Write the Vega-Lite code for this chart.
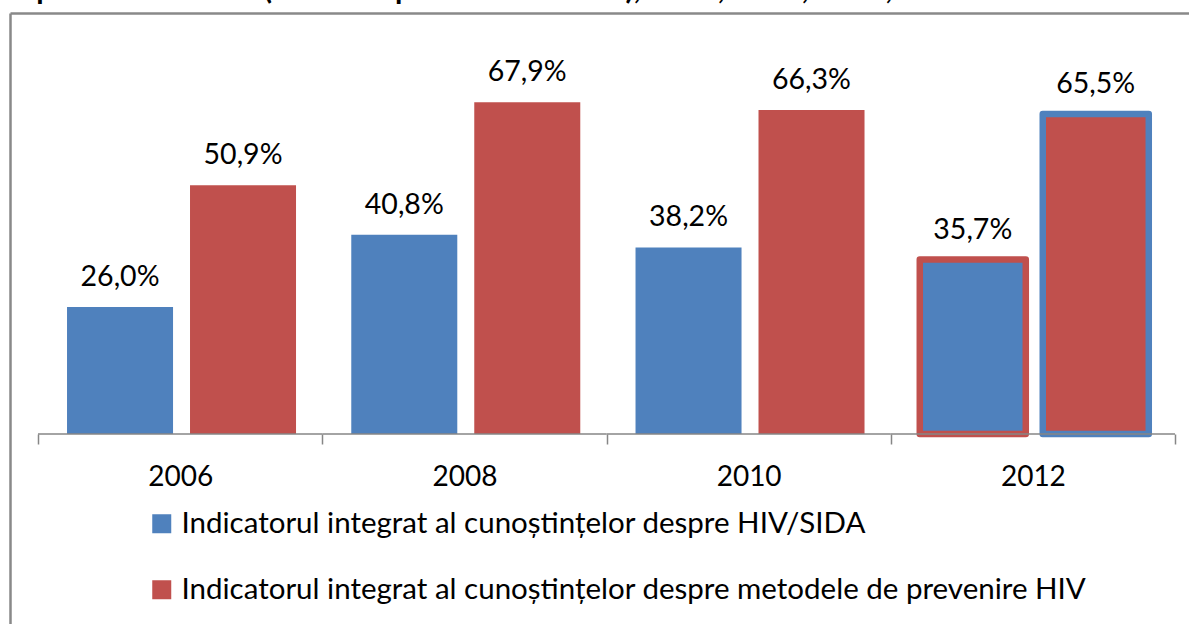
{
  "$schema": "https://vega.github.io/schema/vega-lite/v6.json",
  "width": 1179,
  "height": 611,
  "autosize": {"type": "none"},
  "padding": {"left": 10, "top": 13, "right": 0, "bottom": 0},
  "background": "white",
  "config": {
    "view": {"stroke": null},
    "locale": {"number": {"decimal": ",", "thousands": ".", "grouping": [3], "currency": ["", " lei"]}}
  },
  "title": {
    "text": "Republica Moldova (malul drept al râului Nistru), 2006, 2008, 2010, 2012",
    "anchor": "start",
    "font": "Lato",
    "fontSize": 30,
    "fontWeight": "bold",
    "color": "black",
    "baseline": "alphabetic",
    "offset": 6,
    "dx": -8,
    "dy": 22
  },
  "datasets": {
    "bars": [
      {"year": "2006", "series": "Indicatorul integrat al cunoștințelor despre HIV/SIDA", "value": 0.260},
      {"year": "2006", "series": "Indicatorul integrat al cunoștințelor despre metodele de prevenire HIV", "value": 0.509},
      {"year": "2008", "series": "Indicatorul integrat al cunoștințelor despre HIV/SIDA", "value": 0.408},
      {"year": "2008", "series": "Indicatorul integrat al cunoștințelor despre metodele de prevenire HIV", "value": 0.679},
      {"year": "2010", "series": "Indicatorul integrat al cunoștințelor despre HIV/SIDA", "value": 0.382},
      {"year": "2010", "series": "Indicatorul integrat al cunoștințelor despre metodele de prevenire HIV", "value": 0.663},
      {"year": "2012", "series": "Indicatorul integrat al cunoștințelor despre HIV/SIDA", "value": 0.357},
      {"year": "2012", "series": "Indicatorul integrat al cunoștințelor despre metodele de prevenire HIV", "value": 0.655}
    ],
    "years": [
      {"year": "2006"}, {"year": "2008"}, {"year": "2010"}, {"year": "2012"}
    ]
  },
  "layer": [
    {
      "data": {"name": "bars"},
      "mark": {"type": "bar", "strokeJoin": "round"},
      "encoding": {
        "x": {
          "field": "year", "type": "nominal",
          "scale": {"paddingInner": 0, "paddingOuter": 0.0739, "align": 0.667},
          "axis": {
            "orient": "bottom", "title": null, "offset": -190,
            "domain": false, "ticks": true, "tickBand": "extent",
            "tickSize": 10, "tickColor": "#868686", "tickWidth": 1.5,
            "labelFont": "Lato", "labelFontSize": 28, "labelColor": "black",
            "labelAngle": 0, "labelBaseline": "alphabetic", "labelPadding": 41,
            "grid": false
          }
        },
        "xOffset": {
          "field": "series", "type": "nominal",
          "scale": {"paddingInner": 0.138, "paddingOuter": 0.2246, "align": 0.525}
        },
        "y": {
          "field": "value", "type": "quantitative",
          "scale": {"domain": [-0.3889, 0.8618], "nice": false, "zero": false},
          "axis": {
            "title": null, "labels": false, "ticks": false, "grid": false,
            "domain": true, "domainColor": "#898989", "domainWidth": 2.5
          }
        },
        "y2": {"datum": 0},
        "color": {
          "field": "series", "type": "nominal",
          "scale": {
            "domain": [
              "Indicatorul integrat al cunoștințelor despre HIV/SIDA",
              "Indicatorul integrat al cunoștințelor despre metodele de prevenire HIV"
            ],
            "range": ["#4F81BD", "#C0504D"]
          },
          "legend": {
            "orient": "none", "legendX": 137, "legendY": 496,
            "title": null, "direction": "vertical", "columns": 1,
            "symbolType": "square", "symbolSize": 361,
            "symbolStrokeWidth": 0, "symbolOpacity": 1,
            "labelFont": "Lato", "labelFontSize": 29.5, "labelColor": "black",
            "labelLimit": 2000, "labelOffset": 5, "rowPadding": 35, "padding": 0
          }
        },
        "stroke": {
          "condition": [
            {"test": "datum.year === '2012' && datum.series === 'Indicatorul integrat al cunoștințelor despre HIV/SIDA'", "value": "#C0504D"},
            {"test": "datum.year === '2012'", "value": "#4F81BD"}
          ],
          "value": null
        },
        "strokeWidth": {
          "condition": {"test": "datum.year === '2012'", "value": 6.5},
          "value": 0
        }
      }
    },
    {
      "data": {"name": "bars"},
      "mark": {"type": "text", "font": "Lato", "fontSize": 28.5, "color": "black", "baseline": "alphabetic", "dy": -21},
      "encoding": {
        "x": {"field": "year", "type": "nominal", "axis": null},
        "xOffset": {"field": "series", "type": "nominal"},
        "y": {"field": "value", "type": "quantitative"},
        "text": {"field": "value", "type": "quantitative", "format": ".1%"}
      }
    },
    {
      "data": {"name": "years"},
      "mark": {"type": "tick", "size": 284.25, "thickness": 1.5, "color": "#868686", "opacity": 1},
      "encoding": {
        "x": {
          "field": "year", "type": "nominal",
          "axis": {
            "orient": "top", "title": null, "labels": false, "ticks": false, "grid": false,
            "domain": true, "domainColor": "#898989", "domainWidth": 2.5
          }
        },
        "y": {"datum": 0, "type": "quantitative"}
      }
    }
  ],
  "resolve": {"axis": {"x": "independent"}}
}
